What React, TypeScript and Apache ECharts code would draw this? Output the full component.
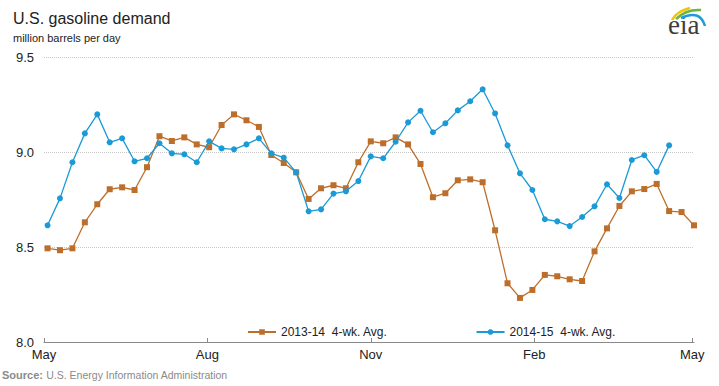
import React, { useEffect, useRef } from "react";
import * as echarts from "echarts";

// Weekly 4-week averages (million barrels per day), week 0 = first week of May
const series1314: number[] = [
  8.493, 8.483, 8.493, 8.63, 8.725, 8.804, 8.814, 8.8, 8.92, 9.083,
  9.058, 9.077, 9.04, 9.025, 9.142, 9.198, 9.167, 9.132, 8.984, 8.942,
  8.893, 8.753, 8.809, 8.825, 8.809, 8.946, 9.056, 9.046, 9.077, 9.04,
  8.937, 8.762, 8.783, 8.851, 8.856, 8.841, 8.588, 8.309, 8.232, 8.274,
  8.353, 8.346, 8.33, 8.321, 8.477, 8.598, 8.716, 8.793, 8.805, 8.832,
  8.689, 8.684, 8.614,
];
const series1415: number[] = [
  8.614, 8.756, 8.946, 9.098, 9.198, 9.051, 9.072, 8.951, 8.967, 9.046,
  8.993, 8.988, 8.946, 9.056, 9.019, 9.014, 9.04, 9.072, 8.993, 8.97,
  8.893, 8.688, 8.698, 8.781, 8.793, 8.847, 8.977, 8.967, 9.054, 9.156,
  9.217, 9.104, 9.151, 9.219, 9.267, 9.33, 9.203, 9.035, 8.888, 8.8,
  8.646, 8.635, 8.61, 8.658, 8.714, 8.83, 8.758, 8.958, 8.983, 8.895,
  9.035,
];
const seriesNames: string[] = ["2013-14  4-wk. Avg.", "2014-15  4-wk. Avg."];
// days since May 1 for month tick labels
const monthTickDays: number[] = [0, 92, 184, 276, 365];
const monthTickLabels: string[] = ["May", "Aug", "Nov", "Feb", "May"];
const firstWeekDay = 2;
const yTicks: number[] = [8.0, 8.5, 9.0, 9.5];

const BROWN = "#BD6E2A";
const BLUE = "#1A9AD6";

const toPoints = (vals: number[]) => vals.map((v, i) => [firstWeekDay + 7 * i, v]);

export default function App() {
  const ref = useRef<HTMLDivElement>(null);
  useEffect(() => {
    if (!ref.current) return;
    const chart = echarts.init(ref.current, null, { renderer: "svg" });
    const labelMap: Record<number, string> = {};
    monthTickDays.forEach((d, i) => (labelMap[d] = monthTickLabels[i]));
    chart.setOption({
      animation: false,
      backgroundColor: "#ffffff",
      textStyle: { fontFamily: "'Liberation Sans', Arial, sans-serif" },
      grid: { left: 44, top: 57, width: 650, bottom: 44, containLabel: false },
      xAxis: {
        type: "value",
        min: 0,
        max: 366,
        axisLine: { show: true, lineStyle: { color: "#8a8a8a", width: 1 } },
        axisTick: {
          show: true,
          inside: true,
          length: 4,
          customValues: monthTickDays,
          lineStyle: { color: "#8a8a8a" },
        },
        axisLabel: {
          customValues: monthTickDays,
          formatter: (v: number) => labelMap[v] ?? "",
          color: "#222",
          fontSize: 13,
          fontFamily: "'Liberation Sans Narrow', 'Liberation Sans', Arial, sans-serif",
          margin: 6,
        },
        splitLine: { show: false },
      },
      yAxis: {
        type: "value",
        min: yTicks[0],
        max: yTicks[yTicks.length - 1],
        interval: 0.5,
        axisLine: { show: false },
        axisTick: { show: false },
        axisLabel: {
          formatter: (v: number) => v.toFixed(1),
          color: "#222",
          fontSize: 13,
          margin: 10,
        },
        splitLine: {
          show: true,
          lineStyle: { color: "#c8c8c8", type: [1, 1], width: 1 },
        },
      },
      legend: {
        data: seriesNames,
        left: 242,
        top: 321,
        itemWidth: 28,
        itemHeight: 7,
        itemGap: 88,
        textStyle: { fontSize: 12, color: "#222" },
      },
      series: [
        {
          name: seriesNames[0],
          type: "line",
          data: toPoints(series1314),
          symbol: "rect",
          symbolSize: 6,
          lineStyle: { color: BROWN, width: 1.3 },
          itemStyle: { color: BROWN },
          z: 2,
        },
        {
          name: seriesNames[1],
          type: "line",
          data: toPoints(series1415),
          symbol: "circle",
          symbolSize: 6,
          lineStyle: { color: BLUE, width: 1.3 },
          itemStyle: { color: BLUE },
          z: 3,
        },
      ],
      graphic: [
        {
          type: "text",
          left: 13,
          top: 10,
          style: { text: "U.S. gasoline demand", fontSize: 16, fill: "#222", fontFamily: "'Liberation Sans', Arial" },
        },
        {
          type: "text",
          left: 13,
          top: 32,
          style: { text: "million barrels per day", fontSize: 11, fill: "#222", fontFamily: "'Liberation Sans', Arial" },
        },
        {
          type: "text",
          left: 2,
          top: 369,
          style: {
            rich: {
              b: { fontWeight: "bold", fill: "#8a8a8a", fontSize: 11, fontFamily: "'Liberation Sans Narrow', 'Liberation Sans', Arial" },
              n: { fill: "#8a8a8a", fontSize: 10.5, fontFamily: "'Liberation Sans Narrow', 'Liberation Sans', Arial" },
            },
            text: "{b|Source:} {n|U.S. Energy Information Administration}",
          },
        },
        // eia logo
        {
          type: "text",
          left: 668,
          top: 11,
          style: { text: "eia", fontSize: 27, fill: "#3d3d3d", fontFamily: "'Liberation Serif', 'DejaVu Serif', serif" },
        },
        {
          type: "bezierCurve",
          shape: { x1: 672, y1: 20, x2: 690, y2: 8, cpx1: 677, cpy1: 11 },
          style: { stroke: "#F2C500", lineWidth: 2.5, fill: "none" },
        },
        {
          type: "bezierCurve",
          shape: { x1: 676, y1: 19, x2: 701, y2: 10, cpx1: 686, cpy1: 9 },
          style: { stroke: "#6DB33F", lineWidth: 2.5, fill: "none" },
        },
        {
          type: "bezierCurve",
          shape: { x1: 681, y1: 18, x2: 705, y2: 26, cpx1: 700, cpy1: 9 },
          style: { stroke: "#1E9CD8", lineWidth: 2.5, fill: "none" },
        },
      ],
    });
    return () => chart.dispose();
  }, []);
  return <div ref={ref} style={{ width: 719, height: 386, position: "absolute", left: 0, top: 0 }} />;
}
